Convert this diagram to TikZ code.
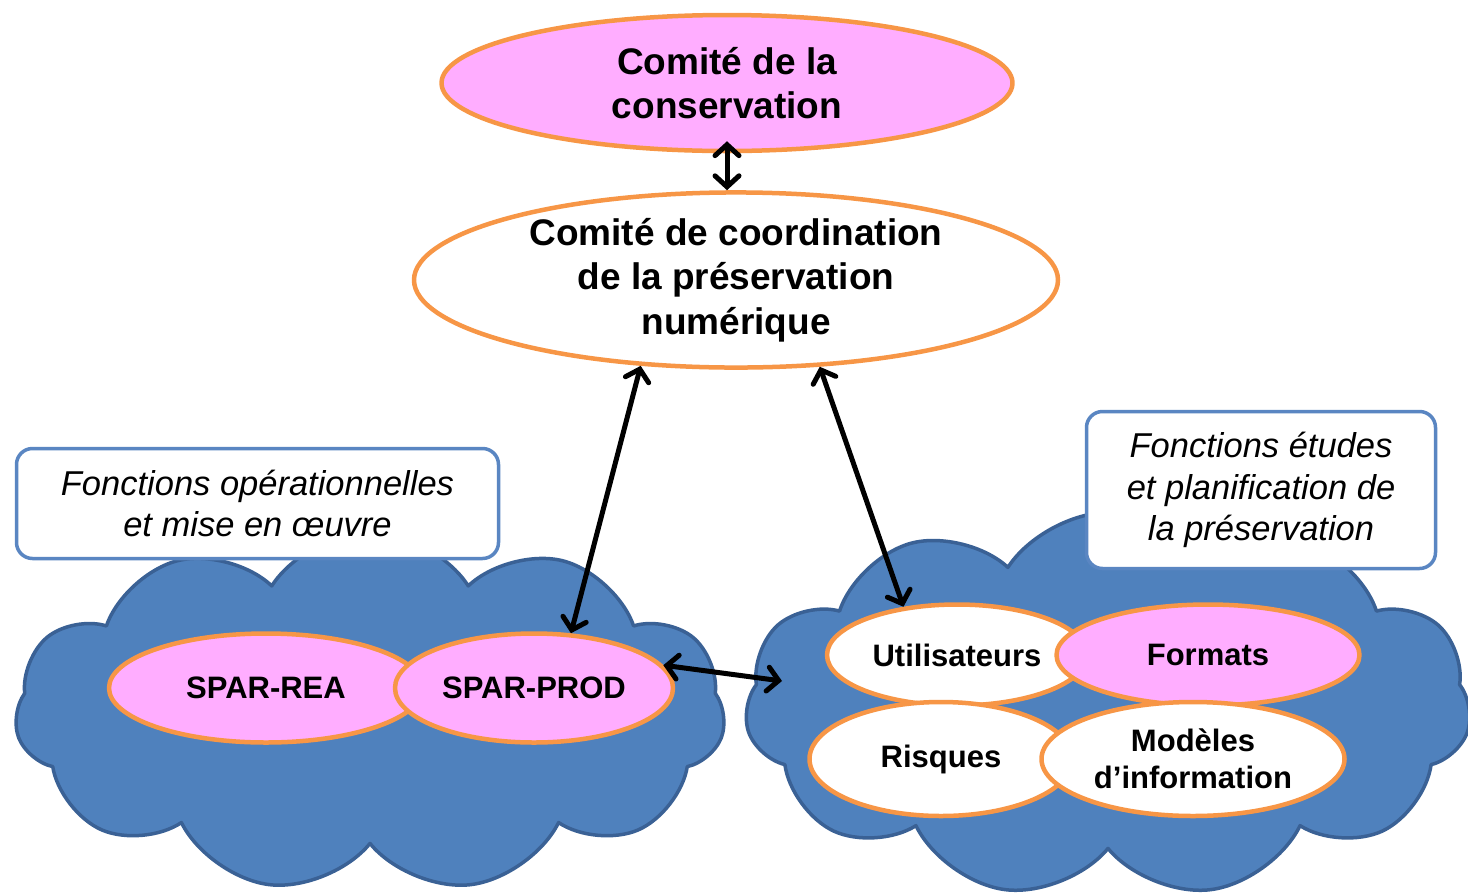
\documentclass[tikz,border=0pt]{standalone}
\usepackage{fontspec}
\setmainfont{Liberation Sans}
\usetikzlibrary{shapes.geometric,shapes.symbols,arrows.meta}
\definecolor{orangeb}{HTML}{F79646}
\definecolor{rose}{HTML}{FFADFF}
\definecolor{bleu}{HTML}{4F81BD}
\definecolor{bleuf}{HTML}{3A6195}
\definecolor{cadre}{HTML}{5A86C2}

\begin{document}
\begin{tikzpicture}[x=1pt, y=-1pt, line join=round,
    comite/.style={ellipse, draw=orangeb, line width=4.5pt, inner sep=0pt, align=center,
      font=\fontsize{37}{44.5}\selectfont\bfseries},
    groupe/.style={ellipse, draw=orangeb, line width=4.5pt, inner sep=0pt, align=center,
      font=\fontsize{31}{37.5}\selectfont\bfseries},
    nuage/.style={cloud, cloud puffs=11, cloud puff arc=115, aspect=2, fill=bleu, draw=bleuf, line width=3.5pt},
    fonction/.style={rectangle, draw=cadre, fill=white, rounded corners=16pt, line width=3.5pt, align=center,
      font=\fontsize{34.5}{41.5}\selectfont\itshape},
    fleche/.style={<->, >={Straight Barb[length=11pt,width=24pt,line cap=round]}, line width=5pt}]
    \clip (0,0) rectangle (1468,895);
    % les deux nuages
    \node[nuage, minimum width=710pt, minimum height=360pt] (ngauche) at (370,712) {};
    \node[nuage, minimum width=726pt, minimum height=385pt] (ndroit) at (1108,705) {};
    \node[fonction, minimum width=482pt, minimum height=110pt] (fgauche) at (257.5,503.5)
        {Fonctions opérationnelles\\ et mise en œuvre};
    \node[fonction, minimum width=349pt, minimum height=157pt] (fdroit) at (1261,490)
        {Fonctions études\\ et planification de\\ la préservation};
    % comites
    \node[comite, fill=rose, minimum width=571pt, minimum height=136pt] (cons) at (727,83)
        {Comité de la\\ conservation};
    \node[comite, fill=white, minimum width=644pt, minimum height=166pt] (coord) at (736,280)
        {Comité de coordination\\ de la préservation\\ numérique};
    % groupes
    \node[groupe, fill=rose, minimum width=314pt, minimum height=109pt] (rea) at (266,688) {SPAR-REA};
    \node[groupe, fill=rose, minimum width=278pt, minimum height=109pt] (prod) at (534,688) {SPAR-PROD};
    \node[groupe, fill=white, minimum width=260pt, minimum height=101pt] (util) at (957,655) {Utilisateurs};
    \node[groupe, fill=rose, minimum width=303pt, minimum height=101pt] (formats) at (1208,655) {Formats};
    \node[groupe, fill=white, minimum width=263pt, minimum height=114pt] (risques) at (941,759) {Risques};
    \node[groupe, fill=white, minimum width=303pt, minimum height=114pt] (modeles) at (1193,759)
        {Modèles\\ d’information};
    \coordinate (entree) at (782,681);
    % fleches
    \draw[fleche] ([yshift=12pt]cons.south) -- (cons.south |- coord.north);
    \draw[fleche] (coord.222) -- (prod.56);
    \draw[fleche] (coord.314) -- (util.138);
    \draw[fleche] (prod.10) -- (entree);
\end{tikzpicture}
\end{document}
